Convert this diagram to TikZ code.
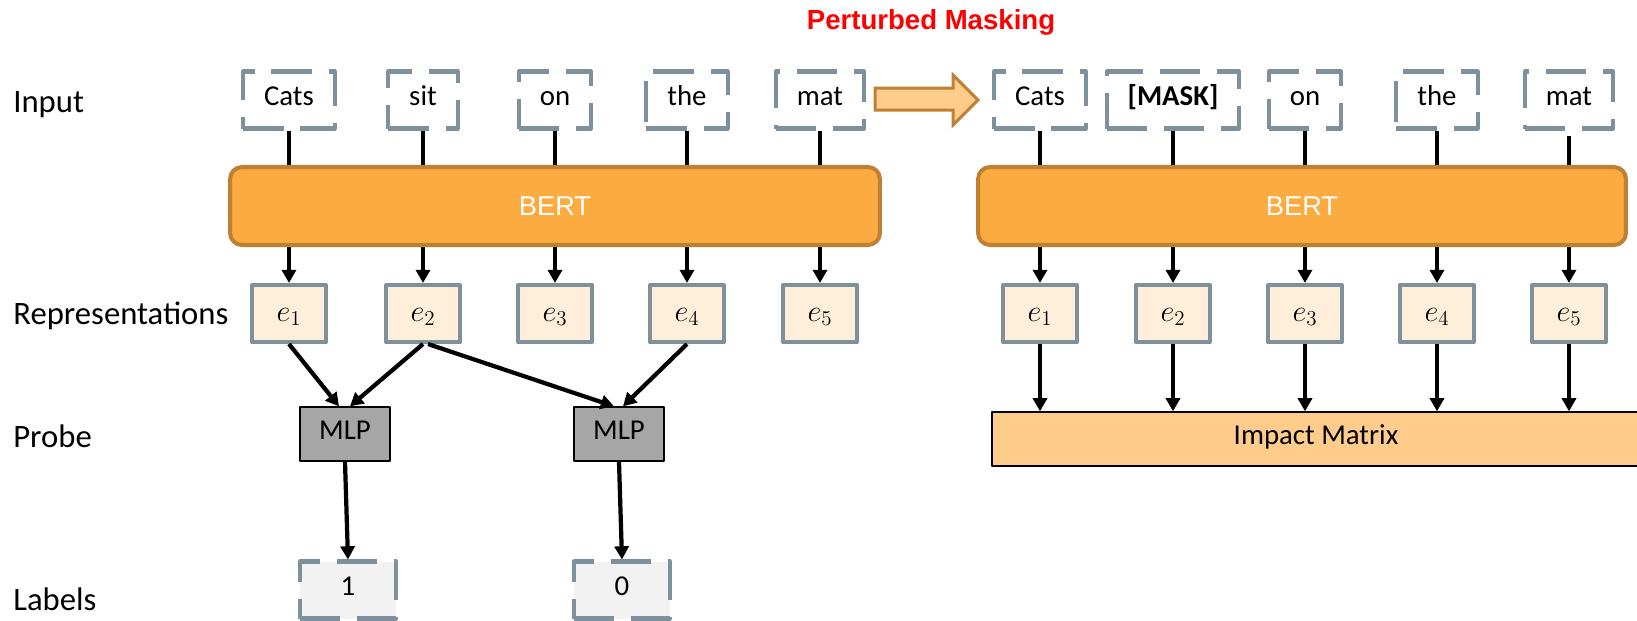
\documentclass[tikz,border=0pt]{standalone}
\usepackage{fontspec}
\setmainfont{Carlito}
\newfontfamily\arialfont{Liberation Sans}
\usetikzlibrary{arrows.meta}
\definecolor{slate}{HTML}{7D909C}
\definecolor{peach}{HTML}{FFEFDA}
\definecolor{bertfill}{HTML}{FCAB40}
\definecolor{bertline}{HTML}{BF8033}
\definecolor{lightorange}{HTML}{FFCC8C}
\definecolor{mlpgrey}{HTML}{A6A6A6}
\definecolor{labgrey}{HTML}{F2F2F2}
\tikzset{
  every picture/.style={line join=round, >={Triangle[length=7.5pt,width=8pt]}},
  boxtext/.style={text height=0.66em, text depth=0pt, font=\fontsize{16.4}{18}\selectfont},
  tok/.style={boxtext, draw=slate, line width=2.3pt, dash pattern=on 23pt off 9.6pt, minimum height=1.14cm, inner xsep=0.42cm},
  rep/.style={draw=slate, line width=2.3pt, fill=peach, minimum width=1.48cm, minimum height=1.14cm, text height=0.9em, text depth=0pt, font=\fontsize{16.4}{18}\selectfont},
  bert/.style={draw=bertline, line width=2.3pt, fill=bertfill, rounded corners=0.24cm, minimum height=1.56cm, text=white, font=\arialfont\fontsize{15.5}{18}\selectfont},
  mlp/.style={boxtext, draw, line width=0.8pt, fill=mlpgrey, minimum width=1.8cm, minimum height=1.08cm},
  lab/.style={tok, fill=labgrey, minimum width=1.92cm},
  rowname/.style={anchor=base west, inner xsep=0pt, font=\fontsize{18.6}{22}\selectfont},
  conn/.style={line width=2.4pt},
}

\begin{document}
\begin{tikzpicture}[x=0.02cm,y=-0.02cm]
\useasboundingbox (0,0) rectangle (1637,620);
\node[font=\arialfont\bfseries\fontsize{15.7}{18}\selectfont, text=red] (title) at (931,22) {Perturbed Masking};
% row names
\node[rowname] (rowIn) at (13,112.7) {Input};
\node[rowname] (rowRep) at (13,324) {Representations};
\node[rowname] (rowProbe) at (13,447) {Probe};
\node[rowname] (rowLab) at (13,610) {Labels};
% probing side
\node[tok] (inA) at (289,100) {Cats};
\node[tok] (inB) at (423,100) {sit};
\node[tok] (inC) at (555,100) {on};
\node[tok] (inD) at (687,100) {the};
\node[tok] (inE) at (820,100) {mat};
\node[bert, minimum width=13cm] (bertL) at (555,206) {BERT};
\node[rep] (eA) at (289,313.5) {$e_1$};
\node[rep] (eB) at (423,313.5) {$e_2$};
\node[rep] (eC) at (555,313.5) {$e_3$};
\node[rep] (eD) at (687,313.5) {$e_4$};
\node[rep] (eE) at (820,313.5) {$e_5$};
\node[mlp] (mlpA) at (345,434) {MLP};
\node[mlp] (mlpB) at (619,434) {MLP};
\node[lab] (labA) at (348,590) {1};
\node[lab] (labB) at (622,590) {0};
% masking side
\draw[draw=bertline, fill=lightorange, line width=1.7pt, line join=miter]
  (875,88) -- (953,88) -- (953,75) -- (978,100) -- (953,125) -- (953,110) -- (875,110) -- cycle;
\node[tok] (mA) at (1040,100) {Cats};
\node[tok] (mB) at (1173,100) {\textbf{[MASK]}};
\node[tok] (mC) at (1305,100) {on};
\node[tok] (mD) at (1437,100) {the};
\node[tok] (mE) at (1569,100) {mat};
\node[bert, minimum width=12.96cm] (bertR) at (1302,206) {BERT};
\node[rep] (fA) at (1040,313.5) {$e_1$};
\node[rep] (fB) at (1173,313.5) {$e_2$};
\node[rep] (fC) at (1305,313.5) {$e_3$};
\node[rep] (fD) at (1437,313.5) {$e_4$};
\node[rep] (fE) at (1569,313.5) {$e_5$};
\node[boxtext, draw, line width=0.8pt, fill=lightorange, minimum width=12.96cm, minimum height=1.08cm] (impact) at (1316,439) {Impact Matrix};
% connectors
\draw[conn, shorten <=3pt] (inA.south) -- (inA.south |- bertL.north)
  (inB.south) -- (inB.south |- bertL.north)
  (inC.south) -- (inC.south |- bertL.north)
  (inD.south) -- (inD.south |- bertL.north)
  (inE.south) -- (inE.south |- bertL.north)
  (mA.south) -- (mA.south |- bertR.north)
  (mB.south) -- (mB.south |- bertR.north)
  (mC.south) -- (mC.south |- bertR.north)
  (mD.south) -- (mD.south |- bertR.north)
  (mE.south) -- (mE.south |- bertR.north);
\draw[conn,->] (bertL.south -| eA.north) -- (eA.north);
\draw[conn,->] (bertL.south -| eB.north) -- (eB.north);
\draw[conn,->] (bertL.south -| eC.north) -- (eC.north);
\draw[conn,->] (bertL.south -| eD.north) -- (eD.north);
\draw[conn,->] (bertL.south -| eE.north) -- (eE.north);
\draw[conn,->] (bertR.south -| fA.north) -- (fA.north);
\draw[conn,->] (bertR.south -| fB.north) -- (fB.north);
\draw[conn,->] (bertR.south -| fC.north) -- (fC.north);
\draw[conn,->] (bertR.south -| fD.north) -- (fD.north);
\draw[conn,->] (bertR.south -| fE.north) -- (fE.north);
\draw[conn,->] (eA.south) -- ([xshift=-0.12cm]mlpA.north);
\draw[conn,->] (eB.south) -- ([xshift=0.1cm]mlpA.north);
\draw[conn,->] ([xshift=0.1cm]eB.south) -- ([xshift=-0.1cm]mlpB.north);
\draw[conn,->] (eD.south) -- ([xshift=0.08cm]mlpB.north);
\draw[conn,->] (mlpA.south) -- (labA.north);
\draw[conn,->] (mlpB.south) -- (labB.north);
\draw[conn,->] (fA.south) -- (fA.south |- impact.north);
\draw[conn,->] (fB.south) -- (fB.south |- impact.north);
\draw[conn,->] (fC.south) -- (fC.south |- impact.north);
\draw[conn,->] (fD.south) -- (fD.south |- impact.north);
\draw[conn,->] (fE.south) -- (fE.south |- impact.north);
\end{tikzpicture}
\end{document}
